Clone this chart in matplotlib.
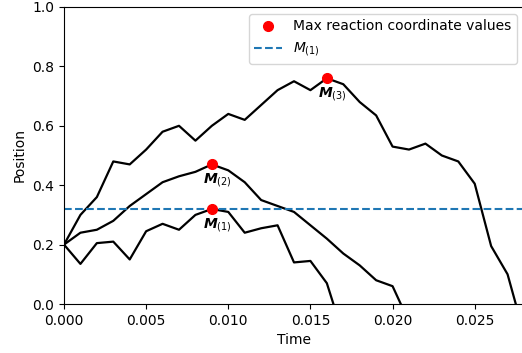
import numpy as np
import matplotlib.pyplot as plt

# time grid (s)
t1 = [0.000, 0.001, 0.002, 0.003, 0.004, 0.005, 0.006, 0.007, 0.008, 0.009,
      0.010, 0.011, 0.012, 0.013, 0.014, 0.015, 0.016, 0.017]
pos1 = [0.20, 0.135, 0.205, 0.21, 0.15, 0.245, 0.27, 0.25, 0.30, 0.32,
        0.31, 0.24, 0.255, 0.265, 0.14, 0.145, 0.07, -0.105]

t2 = [0.000, 0.001, 0.002, 0.003, 0.004, 0.005, 0.006, 0.007, 0.008, 0.009,
      0.010, 0.011, 0.012, 0.013, 0.014, 0.015, 0.016, 0.017, 0.018, 0.019,
      0.020, 0.021]
pos2 = [0.20, 0.24, 0.25, 0.28, 0.33, 0.37, 0.41, 0.43, 0.445, 0.47,
        0.45, 0.41, 0.35, 0.33, 0.31, 0.265, 0.22, 0.17, 0.13, 0.08,
        0.06, -0.06]

t3 = [0.000, 0.001, 0.002, 0.003, 0.004, 0.005, 0.006, 0.007, 0.008, 0.009,
      0.010, 0.011, 0.012, 0.013, 0.014, 0.015, 0.016, 0.017, 0.018, 0.019,
      0.020, 0.021, 0.022, 0.023, 0.024, 0.025, 0.026, 0.027, 0.028]
pos3 = [0.20, 0.30, 0.36, 0.48, 0.47, 0.52, 0.58, 0.60, 0.55, 0.60,
        0.64, 0.62, 0.67, 0.72, 0.75, 0.72, 0.76, 0.74, 0.68, 0.635,
        0.53, 0.52, 0.54, 0.50, 0.48, 0.405, 0.195, 0.10, -0.10]

# maxima of each trajectory
max_t = [0.009, 0.009, 0.016]
max_v = [0.32, 0.47, 0.76]
max_labels = [r'$\boldsymbol{M}_{(1)}$', r'$\boldsymbol{M}_{(2)}$',
              r'$\boldsymbol{M}_{(3)}$']

fig = plt.figure(figsize=(5.22, 3.53), dpi=100)
ax = fig.add_axes([64 / 522, 49 / 353, 460 / 522, 297 / 353])

for t, p in [(t1, pos1), (t2, pos2), (t3, pos3)]:
    ax.plot(t, p, color='black', linewidth=1.6)

ax.plot(max_t, max_v, 'o', color='red', markersize=7, zorder=3,
        label='Max reaction coordinate values')
ax.axhline(max_v[0], color='C0', linestyle='--', linewidth=1.5,
           label=r'$M_{(1)}$')

for x, y, lab in zip(max_t, max_v, max_labels):
    ax.annotate(lab, (x, y), xytext=(4, -5), textcoords='offset points',
                ha='center', va='top', fontsize=10)

ax.set_xlim(0, 0.028)
ax.set_ylim(0, 1.0)
ax.set_xticks([0.000, 0.005, 0.010, 0.015, 0.020, 0.025])
ax.set_xlabel('Time')
ax.set_ylabel('Position')
ax.legend(loc='upper right')

plt.savefig('out.png', dpi=100)
